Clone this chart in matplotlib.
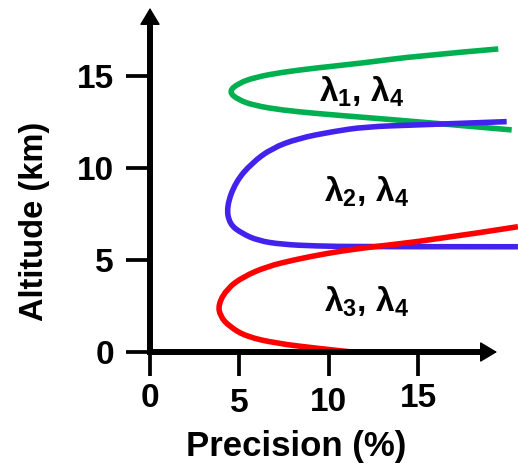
import matplotlib
matplotlib.use('Agg')
import matplotlib.pyplot as plt
from matplotlib.path import Path
from matplotlib.patches import PathPatch
from matplotlib.transforms import ScaledTranslation

plt.rcParams['font.family'] = ['Liberation Sans', 'DejaVu Sans']
plt.rcParams['font.weight'] = 'bold'
plt.rcParams['mathtext.fontset'] = 'custom'
plt.rcParams['mathtext.rm'] = 'Liberation Sans:bold'
plt.rcParams['mathtext.bf'] = 'Liberation Sans:bold'

# precision (%) vs altitude (km)
green_x = [19.49, 14.92, 12.03, 9.23, 7.37, 5.88, 4.94, 4.40, 4.94, 5.88, 7.37, 9.23, 11.85, 14.92, 20.24]
green_y = [16.47, 16.09, 15.72, 15.43, 15.20, 14.93, 14.60, 14.15, 13.70, 13.39, 13.15, 12.97, 12.76, 12.52, 12.07]

blue_x = [19.96, 14.92, 12.03, 10.17, 8.30, 6.81, 5.69, 4.80, 4.28, 4.45, 5.13, 6.06, 7.37, 9.23, 11.85, 20.59]
blue_y = [12.52, 12.34, 12.24, 11.97, 11.61, 11.07, 10.26, 9.26, 7.90, 6.95, 6.45, 6.05, 5.85, 5.76, 5.72, 5.72]

red_x = [20.59, 15.85, 11.75, 9.89, 8.02, 6.53, 5.22, 4.33, 3.82, 3.92, 4.45, 5.41, 7.09, 9.33, 11.29]
red_y = [6.81, 6.09, 5.64, 5.36, 5.00, 4.64, 4.09, 3.46, 2.60, 1.95, 1.38, 0.83, 0.47, 0.20, 0.00]

labels = [r'$\mathbf{\lambda_1}$, $\mathbf{\lambda_4}$',
          r'$\mathbf{\lambda_2}$, $\mathbf{\lambda_4}$',
          r'$\mathbf{\lambda_3}$, $\mathbf{\lambda_4}$']
label_x = [11.86, 12.11, 12.11]
label_y = [13.6, 8.17, 2.19]

ticks = [0, 5, 10, 15]
tick_drop = [0, 5, 4, 0]  # the x labels sit a bit unevenly in the original (px)


def smooth_curve(ax, xs, ys, color):
    # quadratic spline through the midpoints, read points as controls
    pts = list(zip(xs, ys))
    verts = [pts[0]]
    codes = [Path.MOVETO]
    for i in range(1, len(pts) - 1):
        mid = ((pts[i][0] + pts[i + 1][0]) / 2, (pts[i][1] + pts[i + 1][1]) / 2)
        if i == len(pts) - 2:
            mid = pts[i + 1]
        verts += [pts[i], mid]
        codes += [Path.CURVE3, Path.CURVE3]
    ax.add_patch(PathPatch(Path(verts, codes), fill=False, ec=color, lw=4,
                           capstyle='butt', joinstyle='round'))


fig = plt.figure(figsize=(5.18, 4.63), dpi=100)
ax = fig.add_axes([0, 0, 1, 1])

# pixel scale of the original figure
x0, y0, sx, sy = 150, 352, 17.87, 18.4
ax.set_xlim(-x0 / sx, (518 - x0) / sx)
ax.set_ylim((y0 - 463) / sy, y0 / sy)

smooth_curve(ax, green_x, green_y, '#00B050')
smooth_curve(ax, blue_x, blue_y, '#4422EE')
smooth_curve(ax, red_x, red_y, '#FF0000')

for t, lx, ly in zip(labels, label_x, label_y):
    ax.text(lx, ly, t, ha='center', va='baseline', fontsize=24)

# axes as arrows through the origin
for s in ['top', 'right']:
    ax.spines[s].set_visible(False)
ax.spines['left'].set_position(('data', 0))
ax.spines['bottom'].set_position(('data', 0))
ax.spines['left'].set_bounds(0, 18.0)
ax.spines['bottom'].set_bounds(0, 18.6)
ax.spines['left'].set_linewidth(4.3)
ax.spines['bottom'].set_linewidth(4.3)

arrow = dict(arrowstyle='-|>,head_length=0.6,head_width=0.36', mutation_scale=18,
             fc='black', ec='black', lw=1, shrinkA=0, shrinkB=0)
ax.annotate('', xy=(0, 18.7), xytext=(0, 17.5), arrowprops=arrow)
ax.annotate('', xy=(19.42, 0), xytext=(18.2, 0), arrowprops=arrow)

ax.set_xticks(ticks)
ax.set_yticks(ticks)
ax.tick_params(direction='out', width=2.7, labelsize=24)
ax.tick_params(axis='x', length=17, pad=5)
ax.tick_params(axis='y', length=17, pad=9)

for lbl, d in zip(ax.get_xticklabels(), tick_drop):
    lbl.set_transform(lbl.get_transform() + ScaledTranslation(0, -d / 100, fig.dpi_scale_trans))

ax.text(8.2, -5.16, 'Precision (%)', ha='center', va='center', fontsize=25)
ax.text(-6.44, 7.1, 'Altitude (km)', rotation=90, ha='center', va='center', fontsize=23.5)

fig.savefig('out.png', dpi=100)
